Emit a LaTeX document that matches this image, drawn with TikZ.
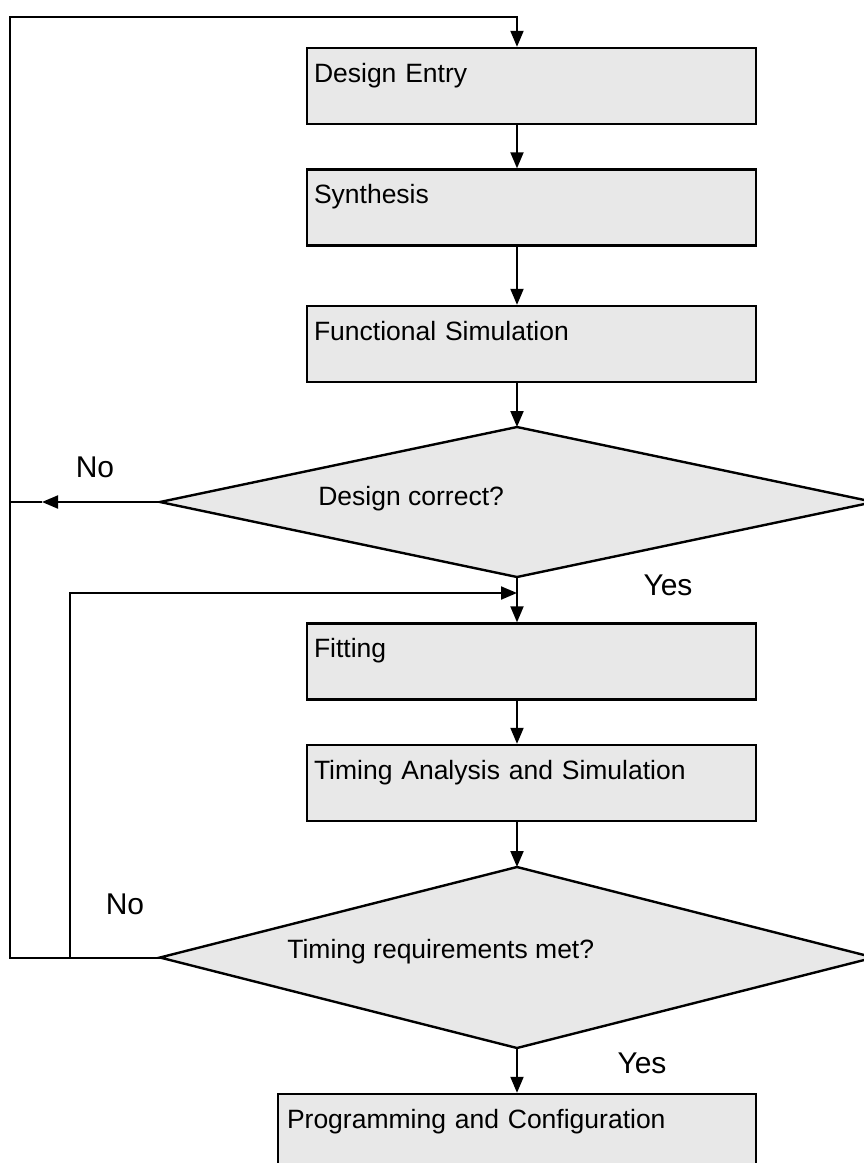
\documentclass[tikz,border=0pt]{standalone}
\usepackage{fontspec}
\setmainfont{Liberation Sans}
\usetikzlibrary{shapes.geometric,arrows.meta}
\definecolor{boxgray}{HTML}{E8E8E8}
\tikzset{
  stepbox/.style={draw,line width=2.4pt,fill=boxgray,inner xsep=7pt,inner ysep=0pt,text width=435pt,align=left,text height=34pt,text depth=42pt},
  decision/.style={diamond,draw,line width=2.4pt,fill=boxgray,inner sep=0pt,outer sep=0pt,minimum width=714pt},
  answer/.style={font=\fontsize{30}{36}\selectfont},
}
\begin{document}
\begin{tikzpicture}[x=1pt,y=-1pt,>={Triangle[length=16pt,width=13pt]},line width=2pt,font=\fontsize{26.5}{31}\selectfont]
	\useasboundingbox (0,0) rectangle (863,1163);
	\coordinate (top) at (517,17);
	\coordinate (corner) at (10,17);
	\coordinate (inner) at (70,593);
	\coordinate (notip) at (42,502);
	% steps and decisions
	\node[stepbox] (entry) at (531.5,86) {Design Entry};
	\node[stepbox] (synth) at (531.5,207.5) {Synthesis};
	\node[stepbox] (funsim) at (531.5,344) {Functional Simulation};
	\node[decision,minimum height=150pt] (check) at (517,502) {};
	\node[stepbox] (fit) at (531.5,661.5) {Fitting};
	\node[stepbox] (timsim) at (531.5,783) {Timing Analysis and Simulation};
	\node[decision,minimum height=181pt] (timing) at (517,957.5) {};
	\node[stepbox,text width=460pt,inner xsep=9pt] (prog) at (517,1132) {Programming and Configuration};
	\node[anchor=base west] (checktxt) at (314,505) {Design correct?};
	\node[anchor=base west] (timingtxt) at (283,958) {Timing requirements met?};
	\node[answer] (no1) at (95,467) {No};
	\node[answer] (yes1) at (668,585) {Yes};
	\node[answer] (no2) at (125,904) {No};
	\node[answer] (yes2) at (642,1063) {Yes};
	% main flow
	\draw[->] (entry.south -| top) -- (synth.north -| top);
	\draw[->] (synth.south -| top) -- (funsim.north -| top);
	\draw[->] (funsim.south -| top) -- (check.north);
	\draw[->] (check.south) -- (fit.north -| top);
	\draw[->] (fit.south -| top) -- (timsim.north -| top);
	\draw[->] (timsim.south -| top) -- (timing.north);
	\draw[->] (timing.south) -- (prog.north);
	% feedback loops
	\draw[->] (timing.west) -| (corner) -- (top) -- (entry.north -| top);
	\draw[->] (check.west) -- (notip);
	\draw (notip) -- (notip -| corner);
	\draw[->] (timing.west -| inner) -- (inner) -- (check.south |- inner);
\end{tikzpicture}
\end{document}
